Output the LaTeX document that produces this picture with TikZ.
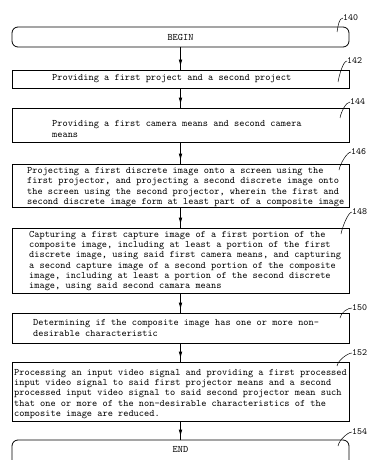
\documentclass[tikz,border=0pt]{standalone}
\usepackage{fontspec}
\usetikzlibrary{arrows.meta}
\begin{document}
\begin{tikzpicture}[x=1pt,y=-1pt,
  box/.style={draw, line width=0.8pt, minimum width=337pt, inner sep=0pt},
  term/.style={box, rounded corners=6pt},
  txt/.style={anchor=west, align=left, inner sep=0pt,
    font=\ttfamily\fontsize{9.9}{10.2}\selectfont},
  lbl/.style={anchor=west, inner sep=0pt, font=\ttfamily\fontsize{9.5}{10}\selectfont},
  lead/.style={line width=0.5pt},
  flow/.style={line width=0.8pt},
  tip/.style={line width=0.8pt, -{Latex[length=7pt,width=3.6pt]}, shorten >=3pt}]
\useasboundingbox (0,0) rectangle (369,460);

% process boxes
\node[term, minimum height=20pt] (s140) at (180.5,37) {};
\node[box, minimum height=18pt] (s142) at (180.5,79) {};
\node[box, minimum height=34pt] (s144) at (180.5,125) {};
\node[box, minimum height=43pt] (s146) at (180.5,185.5) {};
\node[box, minimum height=65pt] (s148) at (180.5,260.5) {};
\node[box, minimum height=30pt] (s150) at (180.5,328) {};
\node[box, minimum height=59pt] (s152) at (180.5,391.5) {};
\node[term, minimum height=30pt] (s154) at (180.5,455) {};

% box texts
\node[txt, anchor=center] (t140) at (180.5,37) {BEGIN};
\node[txt] (t142) at (52,79) {Providing a first project and a second project};
\node[txt] (t144) at (52,129) {Providing a first camera means and second camera\\means};
\node[txt] (t146) at (27,187) {Projecting a first discrete image onto a screen using the\\first projector, and projecting a second discrete image onto\\the screen using the second projector, wherein the first and\\second discrete image form at least part of a composite image};
\node[txt] (t148) at (29,261) {Capturing a first capture image of a first portion of the\\composite image, including at least a portion of the first\\discrete image, using said first camera means, and capturing\\a second capture image of a second portion of the composite\\image, including at least a portion of the second discrete\\image, using said second camara means};
\node[txt] (t150) at (33,328) {Determining if the composite image has one or more non-\\desirable characteristic};
\node[txt] (t152) at (14,394) {Processing an input video signal and providing a first processed\\input video signal to said first projector means and a second\\processed input video signal to said second projector mean such\\that one or more of the non-desirable characteristics of the\\composite image are reduced.};
\node[txt, anchor=center] (t154) at (180.5,449) {END};

% connectors
\foreach \a/\b in {s140/s142, s142/s144, s144/s146, s146/s148, s148/s150, s150/s152, s152/s154} {
  \draw[flow] (\a.south) -- (\b.north);
  \draw[tip] (\a.south) -- (\b.north);
}

% reference numerals with leader lines
\node[lbl] (n140) at (343,18) {140};
\node[lbl] (n142) at (347,61) {142};
\node[lbl] (n144) at (350,102) {144};
\node[lbl] (n146) at (351,152) {146};
\node[lbl] (n148) at (352,212) {148};
\node[lbl] (n150) at (352,308) {150};
\node[lbl] (n152) at (352,353) {152};
\node[lbl] (n154) at (352,432) {154};
\coordinate (e140) at (337,32);
\coordinate (e142) at (338,82);
\coordinate (e144) at (340,118);
\coordinate (e146) at (339,170);
\coordinate (e148) at (341,234);
\coordinate (e150) at (340,318);
\coordinate (e152) at (337,366);
\coordinate (e154) at (338,446);
\foreach \n in {140,142,144,146,148,150,152,154} {
  \draw[lead] (n\n.west) .. controls +(-4,0) and +(1,-6) .. (e\n);
}
\end{tikzpicture}
\end{document}
